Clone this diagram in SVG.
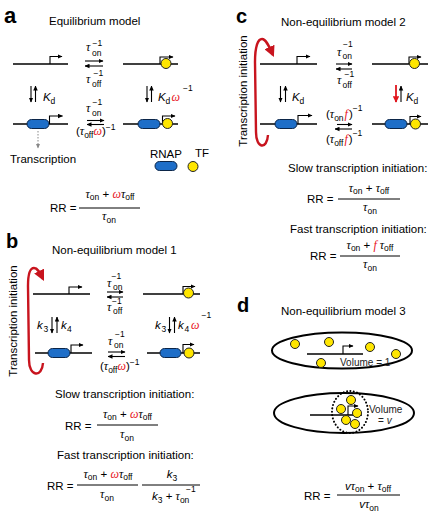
<svg xmlns="http://www.w3.org/2000/svg" width="433" height="525" viewBox="0 0 433 525">
<defs>
<marker id="ah" viewBox="0 0 10 10" refX="9" refY="5" markerWidth="5" markerHeight="5" markerUnits="userSpaceOnUse" orient="auto"><path d="M0,0.5 L10,5 L0,9.5 z" fill="#000"/></marker>
<marker id="ag" viewBox="0 0 10 10" refX="9" refY="5" markerWidth="5" markerHeight="5" markerUnits="userSpaceOnUse" orient="auto"><path d="M0,0.5 L10,5 L0,9.5 z" fill="#888"/></marker>
<marker id="ar" viewBox="0 0 10 10" refX="8" refY="5" markerWidth="11" markerHeight="11" markerUnits="userSpaceOnUse" orient="auto"><path d="M0,0 L10,5 L0,10 z" fill="#c8141e"/></marker>
<marker id="ars" viewBox="0 0 10 10" refX="9" refY="5" markerWidth="6.5" markerHeight="6.5" markerUnits="userSpaceOnUse" orient="auto"><path d="M0,0 L10,5 L0,10 z" fill="#e0161e"/></marker>
</defs>
<style>
text { font-family: "Liberation Sans", Arial, sans-serif; fill: #000; font-size: 11.5px; }
.lbl { font-size: 20px; font-weight: bold; }
.tau { font-family: "Liberation Serif", "Times New Roman", serif; font-style: italic; font-size: 12px; }
.sb { font-size: 8.5px; }
.it { font-style: italic; }
.red { fill: #e8141c; }
.vol { font-size: 10px; fill: #222; }
.dna { stroke: #000; stroke-width: 1.4; fill: none; }
.prom { stroke: #000; stroke-width: 1.1; fill: none; marker-end: url(#ah); }
.arr { stroke: #000; stroke-width: 1.1; fill: none; marker-end: url(#ah); }
.rnap { fill: #1e6ec8; stroke: #0b2548; stroke-width: 1; }
.tf { fill: #ffe600; stroke: #222; stroke-width: 1; }
.frac { stroke: #000; stroke-width: 1; }
.curve { stroke: #c8141e; stroke-width: 2.4; fill: none; marker-end: url(#ar); }
.ell { fill: none; stroke: #000; stroke-width: 2; }
</style>
<rect width="433" height="525" fill="#fff"/>

<!-- ================= Panel a ================= -->
<g id="panel-a">
<text x="4" y="23" class="lbl" style="font-size:22px">a</text>
<text x="49" y="25">Equilibrium model</text>
<g id="a-free">
<line x1="13" y1="64" x2="68" y2="64" class="dna"/>
<path d="M50,64 V56.5 H62" class="prom"/>
</g>
<g id="a-tf">
<line x1="123" y1="64" x2="178" y2="64" class="dna"/>
<path d="M160,64 V57 H173" class="prom"/>
<circle cx="166" cy="63.5" r="5" class="tf"/>
</g>
<g id="a-rnap">
<line x1="13" y1="124" x2="68" y2="124" class="dna"/>
<rect x="27" y="119.5" width="22" height="9" rx="4.5" class="rnap"/>
<path d="M49.5,124 V116 H62.5" class="prom"/>
</g>
<g id="a-rnap-tf">
<line x1="123" y1="124" x2="178" y2="124" class="dna"/>
<rect x="138" y="119.5" width="22" height="9" rx="4.5" class="rnap"/>
<path d="M162.5,124 V116 H175" class="prom"/>
<circle cx="167.5" cy="123.5" r="5" class="tf"/>
</g>
<g id="a-labels">
<text x="86" y="51" class="tau">τ</text><text x="92" y="55.5" class="sb">on</text><text x="92.5" y="46" class="sb">−1</text>
<text x="86" y="83" class="tau">τ</text><text x="92" y="87" class="sb">off</text><text x="93.5" y="76" class="sb">−1</text>
<text x="43" y="101" class="it">K</text><text x="50.5" y="104" class="sb">d</text>
<text x="158" y="101" class="it">K</text><text x="165.5" y="104" class="sb">d</text><text x="171.5" y="101" class="tau red">ω</text><text x="183" y="91" class="sb">−1</text>
<text x="86" y="112" class="tau">τ</text><text x="92" y="115.5" class="sb">on</text><text x="92.5" y="104.5" class="sb">−1</text>
<text x="76" y="135">(<tspan class="tau">τ</tspan><tspan class="sb" dy="3">off</tspan><tspan class="tau red" dy="-3">ω</tspan>)<tspan class="sb" dy="-5">−1</tspan></text>
<text x="10" y="163">Transcription</text>
</g>
<g id="a-legend">
<text x="150" y="158">RNAP</text>
<text x="195" y="157">TF</text>
<rect x="155" y="161.5" width="22" height="9" rx="4.5" class="rnap"/>
<circle cx="193" cy="166.5" r="5" class="tf"/>
</g>
<g id="a-formula">
<text x="50" y="212">RR =</text>
<text x="110" y="198" text-anchor="middle"><tspan class="tau">τ</tspan><tspan class="sb" dy="2">on</tspan><tspan dy="-2"> + </tspan><tspan class="tau red">ω</tspan><tspan class="tau">τ</tspan><tspan class="sb" dy="2">off</tspan></text>
<line x1="79" y1="208" x2="140" y2="208" class="frac"/>
<text x="109" y="220" text-anchor="middle"><tspan class="tau">τ</tspan><tspan class="sb" dy="2.5">on</tspan></text>
</g>
</g>

<!-- ================= Panel b ================= -->
<g id="panel-b">
<text x="6" y="248" class="lbl">b</text>
<text x="52" y="254">Non-equilibrium model 1</text>
<text transform="translate(17,321) rotate(-90)" text-anchor="middle">Transcription initiation</text>
<g id="b-free">
<line x1="33" y1="294" x2="90" y2="294" class="dna"/>
<path d="M69,294 V287 H82" class="prom"/>
</g>
<g id="b-tf">
<line x1="143" y1="294" x2="200" y2="294" class="dna"/>
<path d="M183,294 V286.5 H195" class="prom"/>
<circle cx="188.5" cy="293" r="5" class="tf"/>
</g>
<g id="b-rnap">
<line x1="35" y1="353" x2="92" y2="353" class="dna"/>
<rect x="48" y="348.5" width="22" height="9" rx="4.5" class="rnap"/>
<path d="M71,353 V345 H83" class="prom"/>
</g>
<g id="b-rnap-tf">
<line x1="147" y1="353" x2="200" y2="353" class="dna"/>
<rect x="160" y="348.5" width="21" height="9" rx="4.5" class="rnap"/>
<path d="M183,353 V344.5 H194" class="prom"/>
<circle cx="189" cy="353" r="5" class="tf"/>
</g>
<g id="b-labels">
<text x="107" y="287" class="tau">τ</text><text x="113" y="289.5" class="sb">on</text><text x="111.5" y="279" class="sb">−1</text>
<text x="107" y="311" class="tau">τ</text><text x="113" y="314" class="sb">off</text><text x="112" y="303.5" class="sb">−1</text>
<text x="37" y="329" class="it">k</text><text x="43.5" y="332" class="sb">3</text>
<text x="61" y="329" class="it">k</text><text x="67" y="332" class="sb">4</text>
<text x="155" y="329" class="it">k</text><text x="161.5" y="332" class="sb">3</text>
<text x="178" y="329" class="it">k</text><text x="184.5" y="332" class="sb">4</text><text x="191" y="329" class="tau red">ω</text><text x="201.5" y="318" class="sb">−1</text>
<text x="108" y="345" class="tau">τ</text><text x="114" y="347.5" class="sb">on</text><text x="115" y="336.5" class="sb">−1</text>
<text x="100" y="370">(<tspan class="tau">τ</tspan><tspan class="sb" dy="3">off</tspan><tspan class="tau red" dy="-3">ω</tspan>)<tspan class="sb" dy="-5">−1</tspan></text>
</g>
<g id="b-slow">
<text x="55" y="398">Slow transcription initiation:</text>
<text x="65" y="430">RR =</text>
<text x="127.5" y="418" text-anchor="middle"><tspan class="tau">τ</tspan><tspan class="sb" dy="2">on</tspan><tspan dy="-2"> + </tspan><tspan class="tau red">ω</tspan><tspan class="tau">τ</tspan><tspan class="sb" dy="2">off</tspan></text>
<line x1="97" y1="425" x2="158" y2="425" class="frac"/>
<text x="127" y="438" text-anchor="middle"><tspan class="tau">τ</tspan><tspan class="sb" dy="2.5">on</tspan></text>
</g>
<g id="b-fast">
<text x="57" y="459">Fast transcription initiation:</text>
<text x="47" y="490">RR =</text>
<text x="108" y="478" text-anchor="middle"><tspan class="tau">τ</tspan><tspan class="sb" dy="2">on</tspan><tspan dy="-2"> + </tspan><tspan class="tau red">ω</tspan><tspan class="tau">τ</tspan><tspan class="sb" dy="2">off</tspan></text>
<line x1="77" y1="485" x2="138" y2="485" class="frac"/>
<text x="107" y="498" text-anchor="middle"><tspan class="tau">τ</tspan><tspan class="sb" dy="2.5">on</tspan></text>
<text x="172" y="478" text-anchor="middle"><tspan class="it">k</tspan><tspan class="sb" dy="3">3</tspan></text>
<line x1="142" y1="485" x2="200" y2="485" class="frac"/>
<text x="152" y="500"><tspan class="it">k</tspan><tspan class="sb" dy="3">3</tspan><tspan dy="-3"> + </tspan><tspan class="tau">τ</tspan><tspan class="sb" dy="2.5">on</tspan></text>
<text x="186" y="492" class="sb">−1</text>
</g>
</g>

<!-- ================= Panel c ================= -->
<g id="panel-c">
<text x="236" y="23" class="lbl">c</text>
<text x="281" y="26">Non-equilibrium model 2</text>
<text transform="translate(247,91) rotate(-90)" text-anchor="middle">Transcription initiation</text>
<g id="c-free">
<line x1="260" y1="64" x2="317" y2="64" class="dna"/>
<path d="M297,64 V56.5 H310" class="prom"/>
</g>
<g id="c-tf">
<line x1="372" y1="64" x2="428" y2="64" class="dna"/>
<path d="M409,64 V57 H421" class="prom"/>
<circle cx="414.5" cy="63.5" r="5" class="tf"/>
</g>
<g id="c-rnap">
<line x1="260" y1="124" x2="317" y2="124" class="dna"/>
<rect x="275" y="119.5" width="22" height="9" rx="4.5" class="rnap"/>
<path d="M298,124 V115.5 H312" class="prom"/>
</g>
<g id="c-rnap-tf">
<line x1="372" y1="124" x2="428" y2="124" class="dna"/>
<rect x="385" y="119.5" width="22" height="9" rx="4.5" class="rnap"/>
<path d="M410,124 V116.5 H421" class="prom"/>
<circle cx="415.5" cy="124" r="5" class="tf"/>
</g>
<g id="c-labels">
<text x="337" y="56" class="tau">τ</text><text x="342.5" y="59" class="sb">on</text><text x="343" y="47" class="sb">−1</text>
<text x="337" y="84" class="tau">τ</text><text x="342.5" y="87.5" class="sb">off</text><text x="344.5" y="77" class="sb">−1</text>
<text x="292" y="101" class="it">K</text><text x="299.5" y="104" class="sb">d</text>
<text x="406" y="101" class="it">K</text><text x="413.5" y="104" class="sb">d</text>
<text x="326" y="118">(<tspan class="tau">τ</tspan><tspan class="sb" dy="2.5">on</tspan><tspan class="tau red" dy="-2.5" dx="1">f</tspan><tspan dx="1">)</tspan><tspan class="sb" dy="-7">−1</tspan></text>
<text x="326" y="143">(<tspan class="tau">τ</tspan><tspan class="sb" dy="2.5">off</tspan><tspan class="tau red" dy="-2.5" dx="1">f</tspan><tspan dx="1">)</tspan><tspan class="sb" dy="-7">−1</tspan></text>
</g>
<g id="c-slow">
<text x="288" y="172">Slow transcription initiation:</text>
<text x="307" y="203">RR =</text>
<text x="369" y="192" text-anchor="middle"><tspan class="tau">τ</tspan><tspan class="sb" dy="2">on</tspan><tspan dy="-2"> + </tspan><tspan class="tau">τ</tspan><tspan class="sb" dy="2">off</tspan></text>
<line x1="338" y1="199" x2="400" y2="199" class="frac"/>
<text x="370" y="211" text-anchor="middle"><tspan class="tau">τ</tspan><tspan class="sb" dy="2.5">on</tspan></text>
</g>
<g id="c-fast">
<text x="290" y="233">Fast transcription initiation:</text>
<text x="310" y="260">RR =</text>
<text x="370" y="249" text-anchor="middle"><tspan class="tau">τ</tspan><tspan class="sb" dy="2">on</tspan><tspan dy="-2"> + </tspan><tspan class="tau red">f</tspan><tspan class="tau"> τ</tspan><tspan class="sb" dy="2">off</tspan></text>
<line x1="340" y1="256" x2="400" y2="256" class="frac"/>
<text x="370" y="268" text-anchor="middle"><tspan class="tau">τ</tspan><tspan class="sb" dy="2.5">on</tspan></text>
</g>
</g>

<!-- ================= Panel d ================= -->
<g id="panel-d">
<text x="237" y="312" class="lbl">d</text>
<text x="281" y="315">Non-equilibrium model 3</text>
<g id="d-volume1">
<ellipse cx="342" cy="350.5" rx="70" ry="18" class="ell"/>
<line x1="307" y1="354" x2="363" y2="354" class="dna"/>
<path d="M343,354 V346 H353" class="prom"/>
<circle cx="295" cy="344" r="4.5" class="tf"/>
<circle cx="329" cy="342" r="4.5" class="tf"/>
<circle cx="370" cy="347" r="4.5" class="tf"/>
<circle cx="396" cy="354" r="4.5" class="tf"/>
<circle cx="321" cy="363" r="4.5" class="tf"/>
<text x="340" y="365.5" class="vol">Volume = 1</text>
</g>
<g id="d-volumev">
<ellipse cx="344" cy="413" rx="70" ry="20" class="ell"/>
<ellipse cx="350" cy="412" rx="18" ry="21" fill="none" stroke="#000" stroke-width="2" stroke-dasharray="0.1 3.3" stroke-linecap="round"/>
<line x1="310" y1="415" x2="362" y2="415" class="dna"/>
<path d="M348,415 V406 H358" class="prom"/>
<circle cx="351" cy="400" r="4.5" class="tf"/>
<circle cx="341" cy="409" r="4.5" class="tf"/>
<circle cx="357" cy="413" r="4.5" class="tf"/>
<circle cx="346" cy="420" r="4.5" class="tf"/>
<circle cx="355" cy="424" r="4.5" class="tf"/>
<text x="369" y="413" class="vol">Volume</text>
<text x="378" y="424" class="vol">= <tspan class="it">v</tspan></text>
</g>
<g id="d-formula">
<text x="304" y="500">RR =</text>
<text x="368" y="490" text-anchor="middle"><tspan class="it">v</tspan><tspan class="tau">τ</tspan><tspan class="sb" dy="2">on</tspan><tspan dy="-2"> + </tspan><tspan class="tau">τ</tspan><tspan class="sb" dy="2">off</tspan></text>
<line x1="337" y1="495" x2="400" y2="495" class="frac"/>
<text x="369" y="508" text-anchor="middle"><tspan class="it">v</tspan><tspan class="tau">τ</tspan><tspan class="sb" dy="2.5">on</tspan></text>
</g>
</g>

<!-- ================= Connectors ================= -->
<g id="connectors">
<line x1="85" y1="61" x2="103" y2="61" class="arr"/>
<line x1="103" y1="66" x2="85" y2="66" class="arr"/>
<line x1="87" y1="120.5" x2="104" y2="120.5" class="arr"/>
<line x1="104" y1="124.5" x2="87" y2="124.5" class="arr"/>
<line x1="31" y1="86" x2="31" y2="102" class="arr"/>
<line x1="35.5" y1="102" x2="35.5" y2="86" class="arr"/>
<line x1="147" y1="86" x2="147" y2="102" class="arr"/>
<line x1="151.5" y1="102" x2="151.5" y2="86" class="arr"/>
<line x1="38" y1="131" x2="38" y2="148" stroke="#888" stroke-width="1" stroke-dasharray="1.5 1.5" marker-end="url(#ag)"/>

<line x1="107" y1="292" x2="123" y2="292" class="arr"/>
<line x1="123" y1="297" x2="107" y2="297" class="arr"/>
<line x1="108" y1="352" x2="125" y2="352" class="arr"/>
<line x1="125" y1="356.5" x2="108" y2="356.5" class="arr"/>
<line x1="52" y1="317" x2="52" y2="333" class="arr"/>
<line x1="57" y1="333" x2="57" y2="317" class="arr"/>
<line x1="169.5" y1="317" x2="169.5" y2="333" class="arr"/>
<line x1="174.5" y1="333" x2="174.5" y2="317" class="arr"/>
<path d="M43,363 C42,378 29,377 29,360 L28,286 C28,274 30,268 34,268 C38,268 40,273 43,279" class="curve"/>

<line x1="336" y1="64" x2="352" y2="64" class="arr"/>
<line x1="352" y1="69" x2="336" y2="69" class="arr"/>
<line x1="337" y1="124.5" x2="352" y2="124.5" class="arr"/>
<line x1="352" y1="129" x2="335" y2="129" class="arr"/>
<line x1="280.5" y1="86" x2="280.5" y2="102" class="arr"/>
<line x1="285.5" y1="102" x2="285.5" y2="86" class="arr"/>
<line x1="396" y1="85" x2="396" y2="102" stroke="#e0161e" stroke-width="1.8" marker-end="url(#ars)"/>
<line x1="401" y1="102" x2="401" y2="86" class="arr"/>
<path d="M268,135 C267,150 256,149 256,132 L255,62 C255,46 258,39 262,39 C266,39 269,46 273,55" class="curve"/>
</g>
</svg>
